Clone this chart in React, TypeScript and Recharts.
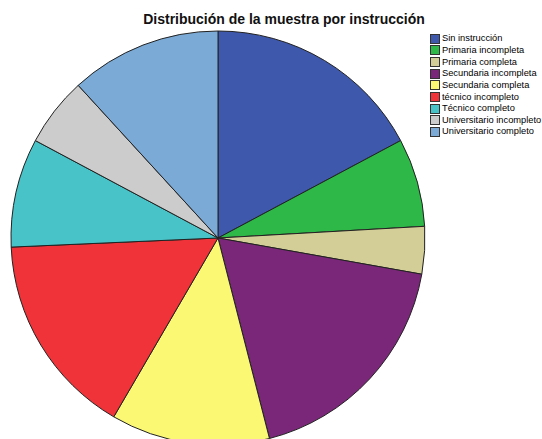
import React from 'react';
import { PieChart, Pie, Cell, Legend } from 'recharts';

const categories = [
  'Sin instrucción',
  'Primaria incompleta',
  'Primaria completa',
  'Secundaria incompleta',
  'Secundaria completa',
  'técnico incompleto',
  'Técnico completo',
  'Universitario incompleto',
  'Universitario completo',
];

const shares = [17.2, 6.9, 3.7, 18.2, 12.4, 15.9, 8.5, 5.4, 11.8];

const colors = [
  '#3e58ac',
  '#2eb848',
  '#d3ce97',
  '#7b2779',
  '#fbf873',
  '#ef3338',
  '#48c3c8',
  '#cccccc',
  '#7aaad5',
];

const data = categories.map((name, i) => ({ name, value: shares[i] }));

// legend drawn like the SPSS one: small boxed swatches, tight rows
const LegendBox = () => (
  <div style={{ fontFamily: 'Liberation Sans, Arial, sans-serif', fontSize: 9.3, color: '#000' }}>
    {categories.map((c, i) => (
      <div key={c} style={{ display: 'flex', alignItems: 'center', height: 11.65, lineHeight: '11px', whiteSpace: 'nowrap' }}>
        <span
          style={{
            display: 'inline-block',
            flex: 'none',
            width: 8,
            height: 8,
            background: colors[i],
            border: '1px solid #333',
            marginRight: 2,
          }}
        />
        {c}
      </div>
    ))}
  </div>
);

export default function App() {
  return (
    <div style={{ position: 'absolute', left: 0, top: 0, width: 542, height: 439, background: '#fff', overflow: 'hidden' }}>
      <div
        style={{
          position: 'absolute',
          left: 0,
          width: 568,
          top: 11,
          textAlign: 'center',
          fontFamily: 'Liberation Sans, Arial, sans-serif',
          fontWeight: 'bold',
          fontSize: 14,
          color: '#111',
        }}
      >
        Distribución de la muestra por instrucción
      </div>
      <PieChart width={542} height={439} margin={{ top: 0, right: 0, bottom: 0, left: 0 }}>
        <Pie
          data={data}
          dataKey="value"
          nameKey="name"
          cx={218}
          cy={238}
          outerRadius={207}
          startAngle={90}
          endAngle={-270}
          stroke="#222"
          strokeWidth={1}
          isAnimationActive={false}
        >
          {data.map((d, i) => (
            <Cell key={d.name} fill={colors[i]} />
          ))}
        </Pie>
        <Legend
          layout="vertical"
          content={<LegendBox />}
          wrapperStyle={{ position: 'absolute', left: 430, top: 33, width: 112 }}
        />
      </PieChart>
    </div>
  );
}
